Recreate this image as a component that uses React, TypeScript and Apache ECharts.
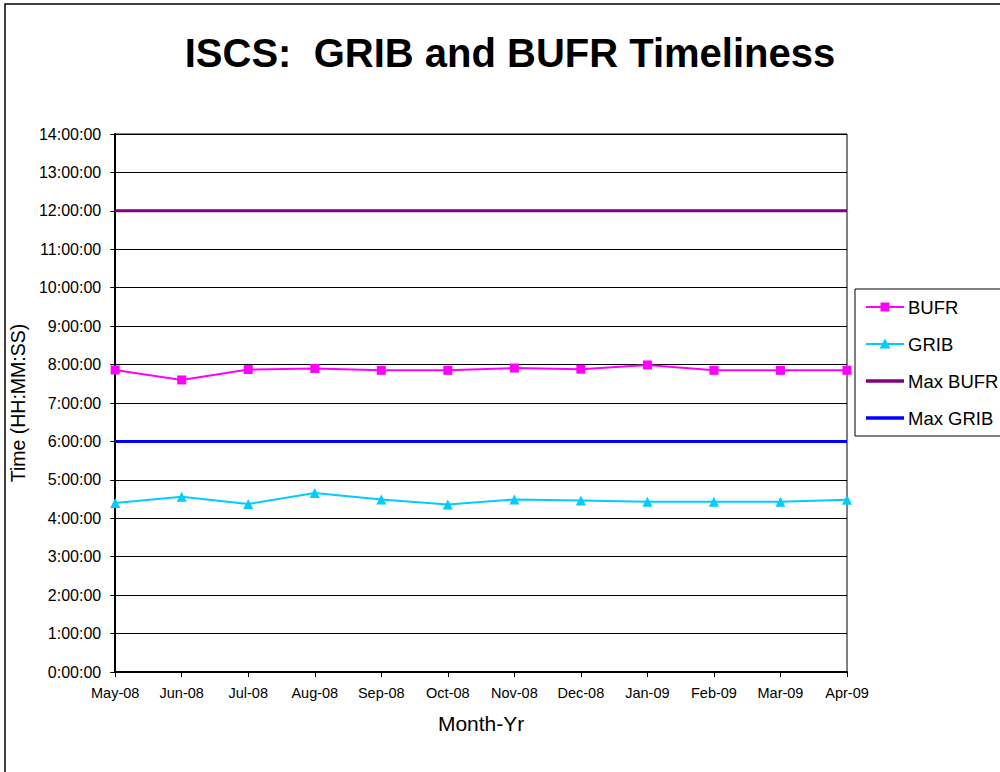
import React, { useEffect, useRef } from "react";
import * as echarts from "echarts";

const months = ["May-08", "Jun-08", "Jul-08", "Aug-08", "Sep-08", "Oct-08", "Nov-08", "Dec-08", "Jan-09", "Feb-09", "Mar-09", "Apr-09"];
const bufr = [7.86, 7.6, 7.87, 7.9, 7.85, 7.85, 7.91, 7.88, 7.99, 7.85, 7.85, 7.85];
const grib = [4.4, 4.56, 4.37, 4.66, 4.49, 4.36, 4.49, 4.46, 4.43, 4.43, 4.43, 4.48];
const maxBufr = [12, 12, 12, 12, 12, 12, 12, 12, 12, 12, 12, 12];
const maxGrib = [6, 6, 6, 6, 6, 6, 6, 6, 6, 6, 6, 6];
const legendNames = ["BUFR", "GRIB", "Max BUFR", "Max GRIB"];

const FONT = "'Liberation Sans', Arial, sans-serif";
const C_BUFR = "#FF00FF";
const C_GRIB = "#00CCFF";
const C_MAXB = "#800080";
const C_MAXG = "#0000FF";

function buildLegend() {
  const x0 = 855;
  const y0 = 289;
  const ys = [307, 344, 381, 418];
  const lx1 = 866;
  const lx2 = 904;
  const cx = 885;
  const els: any[] = [
    {
      type: "rect",
      shape: { x: x0, y: y0, width: 200, height: 147 },
      style: { fill: "#fff", stroke: "#000", lineWidth: 1 },
      silent: true,
    },
  ];
  const colors = [C_BUFR, C_GRIB, C_MAXB, C_MAXG];
  const widths = [2, 2, 3.5, 3.5];
  legendNames.forEach((name, i) => {
    const y = ys[i];
    els.push({
      type: "line",
      shape: { x1: lx1, y1: y, x2: lx2, y2: y },
      style: { stroke: colors[i], lineWidth: widths[i] },
      silent: true,
    });
    if (i === 0) {
      els.push({
        type: "rect",
        shape: { x: cx - 4.5, y: y - 4.5, width: 9, height: 9 },
        style: { fill: C_BUFR },
        silent: true,
      });
    } else if (i === 1) {
      els.push({
        type: "polygon",
        shape: { points: [[cx, y - 5.5], [cx + 5.5, y + 4.5], [cx - 5.5, y + 4.5]] },
        style: { fill: C_GRIB },
        silent: true,
      });
    }
    els.push({
      type: "text",
      x: 908,
      y: y,
      style: {
        text: name,
        fill: "#000",
        font: `18.5px ${FONT}`,
        verticalAlign: "middle",
        align: "left",
      },
      silent: true,
    });
  });
  return els;
}

export default function App() {
  const ref = useRef<HTMLDivElement>(null);
  useEffect(() => {
    if (!ref.current) return;
    const chart = echarts.init(ref.current, undefined, { renderer: "svg" });
    chart.setOption({
      animation: false,
      backgroundColor: "#fff",
      textStyle: { fontFamily: FONT },
      title: {
        text: "ISCS:  GRIB and BUFR Timeliness",
        left: 505,
        textAlign: "center",
        top: 28,
        textStyle: { fontFamily: FONT, fontSize: 40, fontWeight: "bold", color: "#000" },
      },
      graphic: [
        {
          type: "rect",
          shape: { x: 5, y: 4, width: 1010, height: 800 },
          style: { fill: "none", stroke: "#000", lineWidth: 1.5 },
          silent: true,
          z: -1,
        },
        ...buildLegend(),
      ],
      grid: {
        left: 114,
        right: 153,
        top: 134,
        bottom: 100,
        show: true,
        borderColor: "#000",
        borderWidth: 1,
      },
      xAxis: {
        type: "category",
        data: months,
        boundaryGap: false,
        name: "Month-Yr",
        nameLocation: "middle",
        nameGap: 41,
        nameTextStyle: { fontFamily: FONT, fontSize: 21, color: "#000" },
        axisLine: { lineStyle: { color: "#000", width: 2 } },
        axisTick: { show: true, length: 5, lineStyle: { color: "#000" } },
        axisLabel: { fontFamily: FONT, fontSize: 14.5, color: "#000", margin: 13, interval: 0 },
        splitLine: { show: false },
      },
      yAxis: {
        type: "value",
        min: 0,
        max: 14,
        interval: 1,
        name: "Time (HH:MM:SS)",
        nameLocation: "middle",
        nameGap: 76,
        nameTextStyle: { fontFamily: FONT, fontSize: 19.5, color: "#000" },
        axisLine: { show: true, lineStyle: { color: "#000", width: 2 } },
        axisTick: { show: true, length: 5, lineStyle: { color: "#000" } },
        axisLabel: {
          fontFamily: FONT,
          fontSize: 16,
          color: "#000",
          margin: 14,
          formatter: (v: number) => `${v}:00:00`,
        },
        splitLine: { show: true, lineStyle: { color: "#000", width: 1 } },
      },
      series: [
        {
          name: "BUFR",
          type: "line",
          data: bufr,
          symbol: "rect",
          symbolSize: 9,
          itemStyle: { color: C_BUFR },
          lineStyle: { color: C_BUFR, width: 2 },
          z: 5,
        },
        {
          name: "GRIB",
          type: "line",
          data: grib,
          symbol: "triangle",
          symbolSize: 10,
          itemStyle: { color: C_GRIB },
          lineStyle: { color: C_GRIB, width: 2 },
          z: 5,
        },
        {
          name: "Max BUFR",
          type: "line",
          data: maxBufr,
          symbol: "none",
          itemStyle: { color: C_MAXB },
          lineStyle: { color: C_MAXB, width: 3 },
        },
        {
          name: "Max GRIB",
          type: "line",
          data: maxGrib,
          symbol: "none",
          itemStyle: { color: C_MAXG },
          lineStyle: { color: C_MAXG, width: 3 },
        },
      ],
    });
    return () => chart.dispose();
  }, []);
  return (
    <div
      ref={ref}
      style={{ position: "absolute", left: 0, top: 0, width: 1000, height: 772 }}
    />
  );
}
